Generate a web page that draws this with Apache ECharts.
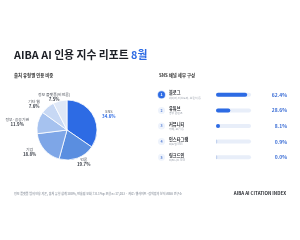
<!DOCTYPE html>
<html>
<head>
<meta charset="utf-8">
<script src="https://cdn.jsdelivr.net/npm/echarts@6/dist/echarts.min.js"></script>
<style>
html,body{margin:0;padding:0;background:#fff;}
#c{width:300px;height:240px;}
</style>
</head>
<body>
<div id="c"></div>
<script>
const pieNames = ['SNS', '언론', '기업', '정부·공공기관', '기타 웹', '정보 플랫폼(비언론)'];
const pieValues = [34.6, 19.7, 18.8, 11.9, 7.6, 7.5];
const pieColors = ['#2d6be4', '#5a8ee0', '#7ea6e7', '#a6c2ef', '#c7d8f4', '#dfe8f7'];

const channelNames = ['블로그', '유튜브', '커뮤니티', '인스타그램', '링크드인'];
const channelNotes = ['네이버, 티스토리, 브런치 등', '영상 콘텐츠', '카페, 포럼 등', '피드형 SNS', '비즈니스 SNS'];
const channelValues = [62.4, 28.6, 8.1, 0.9, 0.0];
const channelRanks = ['1', '2', '3', '4', '5'];

const FONT = '"Noto Sans CJK KR", "Noto Sans", sans-serif';
const chart = echarts.init(document.getElementById('c'), null, {renderer: 'canvas'});

// mid angle of each slice, clockwise from top, in degrees (for label alignment only)
const pieTotal = pieValues.reduce(function (a, b) { return a + b; }, 0);
const pieMid = [];
(function () {
  let acc = 0;
  pieValues.forEach(function (v) { pieMid.push((acc + v / 2) / pieTotal * 360); acc += v; });
})();

const option = {
  backgroundColor: '#ffffff',
  textStyle: {fontFamily: FONT},
  animation: false,
  title: [
    {
      text: '{a|AIBA AI 인용 지수 리포트 }{b|8월}',
      left: 14, top: 49.5, padding: 0,
      textStyle: {
        rich: {
          a: {fontSize: 10.8, fontWeight: 'bold', color: '#1c1f26', fontFamily: FONT},
          b: {fontSize: 10.8, fontWeight: 'bold', color: '#2d6be4', fontFamily: FONT}
        }
      }
    },
    {
      text: '출처 유형별 인용 비중', left: 14, top: 73, padding: 0,
      textStyle: {fontSize: 4.4, fontWeight: 'bold', color: '#333', fontFamily: FONT}
    },
    {
      text: 'SNS 채널 세부 구성', left: 159, top: 73, padding: 0,
      textStyle: {fontSize: 4.4, fontWeight: 'bold', color: '#333', fontFamily: FONT}
    },
    {
      text: '정보 플랫폼 범위 인용 기준, 출처 유형 합계 100%, 반올림 오차 ±0.1%p 포함 n=17,023 · 자료: 웹사이트·검색결과 분석 AIBA 연구소',
      left: 14, top: 192, padding: 0,
      textStyle: {fontSize: 3, color: '#9aa0aa', fontFamily: FONT}
    },
    {
      text: 'AIBA AI CITATION INDEX', right: 14, top: 191.5, padding: 0,
      textStyle: {fontSize: 4.5, fontWeight: 'bold', color: '#2a2d33', fontFamily: FONT}
    }
  ],
  grid: {left: 216, right: 49, top: 87, height: 78},
  xAxis: {type: 'value', min: 0, max: 70, show: false},
  yAxis: [
    {
      type: 'category', inverse: true, position: 'left', data: channelNames,
      axisLine: {show: false}, axisTick: {show: false},
      axisLabel: {
        interval: 0, align: 'left', margin: 47,
        formatter: function (v, i) { return '{n|' + v + '}\n{s|' + channelNotes[i] + '}'; },
        rich: {
          n: {fontSize: 4.2, fontWeight: 'bold', color: '#2a2d33', lineHeight: 5.5, fontFamily: FONT},
          s: {fontSize: 2.8, color: '#a0a6b0', lineHeight: 4, fontFamily: FONT}
        }
      }
    },
    {
      type: 'category', inverse: true, position: 'left', data: channelRanks,
      axisLine: {show: false}, axisTick: {show: false},
      axisLabel: {
        interval: 0, align: 'left', margin: 58,
        formatter: function (v, i) { return i === 0 ? '{f|' + v + '}' : '{e|' + v + '}'; },
        rich: {
          f: {fontSize: 3.6, fontWeight: 'bold', color: '#fff', backgroundColor: '#2d6be4', borderRadius: 4,
              width: 7, height: 7, align: 'center', lineHeight: 7, borderColor: '#c9d9f7', borderWidth: 0.8, fontFamily: FONT},
          e: {fontSize: 3.6, fontWeight: 'bold', color: '#5f86d6', backgroundColor: '#eef3fc', borderRadius: 4,
              width: 7, height: 7, align: 'center', lineHeight: 7, fontFamily: FONT}
        }
      }
    },
    {
      type: 'category', inverse: true, position: 'right',
      data: channelValues.map(function (v) { return v.toFixed(1) + '%'; }),
      axisLine: {show: false}, axisTick: {show: false},
      axisLabel: {interval: 0, align: 'right', margin: 36, fontSize: 5, fontWeight: 'bold', color: '#3d6fd6', fontFamily: FONT}
    }
  ],
  series: [
    {
      type: 'pie',
      center: [67, 130],
      radius: [0, 30],
      startAngle: 90,
      clockwise: true,
      avoidLabelOverlap: false,
      itemStyle: {borderColor: '#ffffff', borderWidth: 0.8},
      labelLine: {show: false, length: 4, length2: 0},
      label: {
        show: true, position: 'outside',
        formatter: function (p) {
          return '{n|' + p.name + '}\n' + (p.dataIndex === 0 ? '{h|' : '{p|') + p.value.toFixed(1) + '%}';
        },
        rich: {
          n: {fontSize: 3.9, color: '#4a4f58', lineHeight: 5, fontFamily: FONT},
          p: {fontSize: 4.4, fontWeight: 'bold', color: '#3a3f48', lineHeight: 5, fontFamily: FONT},
          h: {fontSize: 4.4, fontWeight: 'bold', color: '#2d6be4', lineHeight: 5, fontFamily: FONT}
        }
      },
      labelLayout: function (params) {
        const r = params.labelRect;
        const m = pieMid[params.dataIndex];
        const nearVertical = Math.min(Math.abs(m - 180), Math.abs(m - 360), m) < 25;
        if (nearVertical) {
          return {align: 'center'};
        }
        return {x: r.x + r.width / 2, align: 'center'};
      },
      data: pieNames.map(function (n, i) {
        return {name: n, value: pieValues[i], itemStyle: {color: pieColors[i]}};
      })
    },
    {
      type: 'bar',
      xAxisIndex: 0, yAxisIndex: 0,
      barWidth: 4,
      barMinHeight: 1.2,
      showBackground: true,
      backgroundStyle: {color: '#e8eef9', borderRadius: 2},
      data: channelValues.map(function (v) {
        return {value: v, itemStyle: {color: v >= 5 ? '#2d6be4' : '#c3d2ee', borderRadius: 2}};
      })
    }
  ]
};
chart.setOption(option);
</script>
</body>
</html>
